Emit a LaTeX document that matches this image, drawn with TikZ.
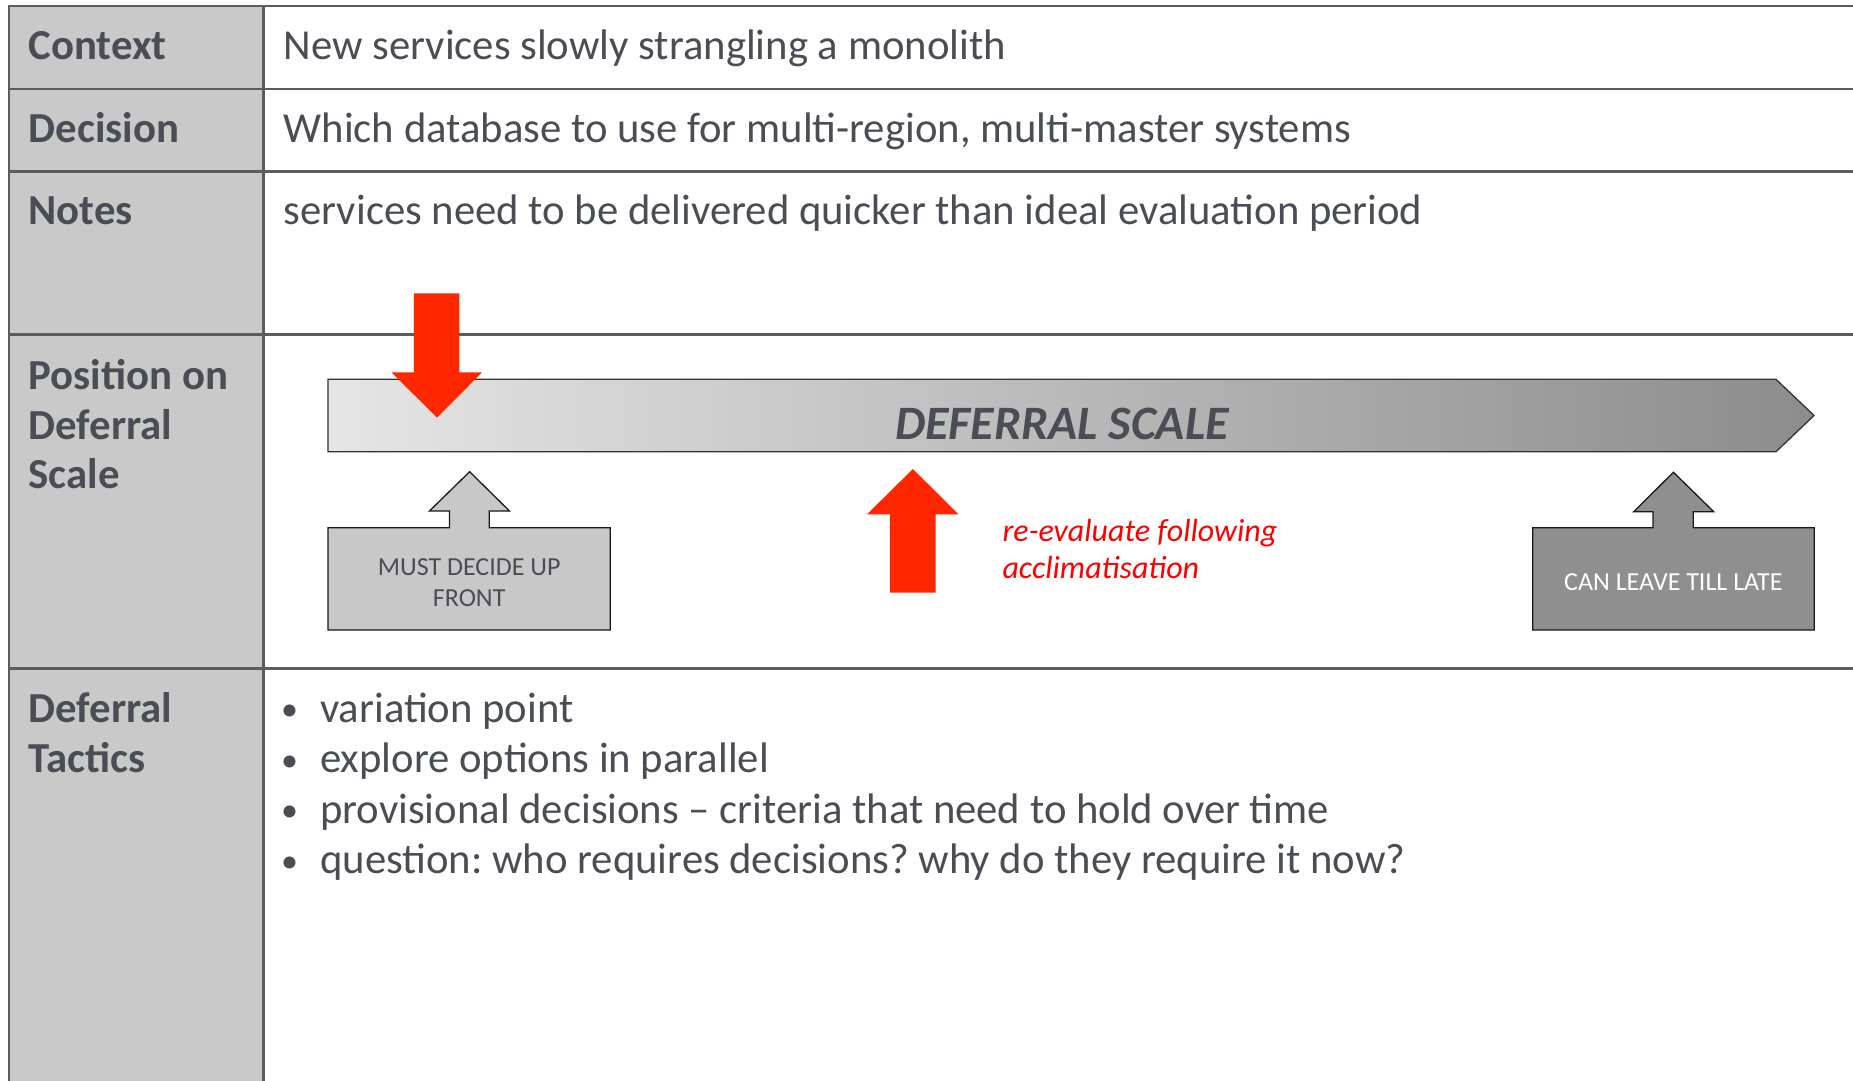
\documentclass[tikz,border=0pt]{standalone}
\usepackage{fontspec}
\setmainfont{Carlito}
\frenchspacing
\definecolor{txt}{HTML}{4A4E54}
\definecolor{labelfill}{HTML}{C9C9C9}
\definecolor{rule}{HTML}{5A5C5F}
\definecolor{redarrow}{HTML}{FF2700}
\definecolor{redtext}{HTML}{FF0000}
\definecolor{lightbox}{HTML}{C8C8C8}
\definecolor{darkbox}{HTML}{8F8F8F}
\begin{document}
\begin{tikzpicture}[x=1pt,y=-1pt,line join=miter,
  tabrule/.style={draw=rule,line width=2.6pt},
  lbl/.style={anchor=base west,inner sep=0pt,text=txt,font=\fontsize{42.8}{50}\selectfont\bfseries},
  body/.style={anchor=base west,inner sep=0pt,text=txt,font=\fontsize{42.7}{50}\selectfont},
  bul/.style={anchor=base,inner sep=0pt,text=txt,font=\fontsize{34}{50}\selectfont},
  redshape/.style={fill=redarrow},
  callout/.style={draw=black!90,line width=1.3pt},
  boxtext/.style={align=center,inner sep=0pt,font=\fontsize{26}{31}\selectfont},
  redlbl/.style={anchor=base west,inner sep=0pt,text=redtext,font=\fontsize{32}{37}\selectfont\itshape}]
\useasboundingbox (0,0) rectangle (1853,1081);
\fill[white] (0,0) rectangle (1853,1081);
% table
\fill[labelfill] (9,6) rectangle (263.5,1081);
\draw[tabrule] (9,1081) -- (9,6) -- (1853,6);
\draw[tabrule] (263.5,6) -- (263.5,1081);
\foreach \yy in {89,171.5,334.5,668.5} \draw[tabrule] (9,\yy) -- (1853,\yy);
% labels
\node[lbl] (lctx) at (28.5,59.5) {Context};
\node[lbl] (ldec) at (28.5,142.5) {Decision};
\node[lbl] (lnot) at (28.5,224) {Notes};
\node[lbl] (lpos1) at (28.5,389.5) {Position on};
\node[lbl] (lpos2) at (28.5,439) {Deferral};
\node[lbl] (lpos3) at (28.5,488.5) {Scale};
\node[lbl] (ltac1) at (28.5,722) {Deferral};
\node[lbl] (ltac2) at (28.5,772) {Tactics};
% body texts
\node[body] (tctx) at (283.5,59.5) {New services slowly strangling a monolith};
\node[body] (tdec) at (283.5,142.5) {Which database to use for multi-region, multi-master systems};
\node[body] (tnot) at (283.5,224) {services need to be delivered quicker than ideal evaluation period};
% bullets
\node[bul] (b1) at (289.5,720.5) {•};
\node[bul] (b2) at (289.5,771) {•};
\node[bul] (b3) at (289.5,821.5) {•};
\node[bul] (b4) at (289.5,872) {•};
\node[body] (t1) at (320,722) {variation point};
\node[body] (t2) at (320,772.5) {explore options in parallel};
\node[body] (t3) at (320,823) {provisional decisions – criteria that need to hold over time};
\node[body] (t4) at (320,873.5) {question: who requires decisions? why do they require it now?};
% deferral scale bar
\shade[left color=black!10,right color=black!45]
  (328,379.3) -- (1776,379.3) -- (1814,415.5) -- (1776,451.7) -- (328,451.7) -- cycle;
\draw[draw=black!80,line width=1.3pt]
  (328,379.3) -- (1776,379.3) -- (1814,415.5) -- (1776,451.7) -- (328,451.7) -- cycle;
\node[anchor=base,inner sep=0pt,text=txt,font=\fontsize{48}{50}\selectfont\bfseries\itshape] (scale) at (1062,439) {DEFERRAL SCALE};
% red down arrow
\fill[redshape] (413.8,293.3) -- (459.4,293.3) -- (459.4,372.3) -- (482.1,372.3) -- (437,417.7) -- (391.5,372.3) -- (413.8,372.3) -- cycle;
% red up arrow
\fill[redshape] (890.2,592.7) -- (890.2,514.3) -- (867,514.3) -- (912.9,469) -- (958.5,514.3) -- (935.7,514.3) -- (935.7,592.7) -- cycle;
% callout boxes
\filldraw[callout,fill=lightbox] (328,630) -- (328,527.7) -- (449.5,527.7) -- (449.5,511) -- (429.5,511) -- (469.6,471.7) -- (509.5,511) -- (489.3,511) -- (489.3,527.7) -- (610.3,527.7) -- (610.3,630) -- cycle;
\node[boxtext,text=txt] (must) at (469.2,582.5) {MUST DECIDE UP\\FRONT};
\filldraw[callout,fill=darkbox] (1532.7,630) -- (1532.7,527.7) -- (1653,527.7) -- (1653,511.7) -- (1633.7,511.7) -- (1673.4,472.3) -- (1713.7,511.7) -- (1693.2,511.7) -- (1693.2,527.7) -- (1814.2,527.7) -- (1814.2,630) -- cycle;
\node[boxtext,text=white] (late) at (1673.4,582.5) {CAN LEAVE TILL LATE};
% red note
\node[redlbl] (r1) at (1002.3,541) {re-evaluate following};
\node[redlbl] (r2) at (1002.3,578.3) {acclimatisation};
\end{tikzpicture}
\end{document}
